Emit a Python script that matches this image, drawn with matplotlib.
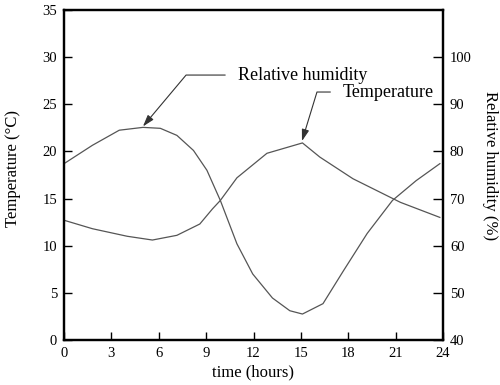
import numpy as np
import matplotlib
matplotlib.use("Agg")
import matplotlib.pyplot as plt

# values
hours_t = [0, 1.8, 4.0, 5.6, 7.15, 8.6, 9.4, 9.9, 10.95, 12.85, 15.1, 16.2, 18.3, 21.3, 23.8]
temperature = [12.7, 11.8, 11.0, 10.6, 11.1, 12.3, 13.9, 14.8, 17.2, 19.8, 20.9, 19.4, 17.1, 14.6, 13.0]

hours_rh = [0, 1.8, 3.5, 5.0, 6.1, 7.15, 8.2, 9.05, 9.9, 10.95, 11.95, 13.2, 14.3,
            15.1, 16.4, 17.7, 19.2, 20.8, 22.3, 23.8]
humidity = [77.4, 81.3, 84.5, 85.1, 84.9, 83.4, 80.2, 76.0, 69.6, 60.4, 54.0, 48.9, 46.2,
            45.5, 47.7, 54.7, 62.6, 69.6, 73.8, 77.4]

x_ticks = [0, 3, 6, 9, 12, 15, 18, 21, 24]
t_ticks = [0, 5, 10, 15, 20, 25, 30, 35]
rh_ticks = [40, 50, 60, 70, 80, 90, 100]

plt.rcParams['font.family'] = ['Liberation Serif', 'DejaVu Serif']
plt.rcParams['font.size'] = 11

fig = plt.figure(figsize=(5.0, 3.85), dpi=100)
ax = fig.add_axes([0.128, 0.117, 0.758, 0.857])
ax2 = ax.twinx()

line_col = '#555555'
ax.plot(hours_t, temperature, color=line_col, lw=0.9)
ax2.plot(hours_rh, humidity, color=line_col, lw=0.9)

ax.set_xlim(0, 24)
ax.set_ylim(0, 35)
ax2.set_ylim(40, 110)
ax.set_xticks(x_ticks)
ax.set_yticks(t_ticks)
ax2.set_yticks(rh_ticks)

ax.tick_params(direction='in', length=6, width=1, labelsize=10.5, pad=5)
ax2.tick_params(direction='in', length=7, width=1, labelsize=10.5, pad=5)
for a in (ax, ax2):
    for s in a.spines.values():
        s.set_linewidth(1.6)

ax.set_xlabel('time (hours)', fontsize=12)
ax.xaxis.set_label_coords(0.5, -0.073)
ax.set_ylabel('Temperature (°C)', fontsize=12)
ax.yaxis.set_label_coords(-0.113, 0.52)
ax2.set_ylabel('Relative humidity (%)', fontsize=12, rotation=270, va='center')
ax2.yaxis.set_label_coords(1.125, 0.53)

head = '-|>,head_length=0.7,head_width=0.22'
ax2.annotate('Relative humidity', xy=(5.0, 85.3), xytext=(11.0, 96.2),
             ha='left', va='center', fontsize=13,
             arrowprops=dict(arrowstyle=head, color='#333333', lw=0.8,
                             mutation_scale=10, shrinkA=7, shrinkB=0,
                             relpos=(0, 0.5),
                             connectionstyle='angle,angleA=0,angleB=50,rad=0'))
ax.annotate('Temperature', xy=(15.07, 21.1), xytext=(17.66, 26.3),
            ha='left', va='center', fontsize=13,
            arrowprops=dict(arrowstyle=head, color='#333333', lw=0.8,
                            mutation_scale=10, shrinkA=7, shrinkB=0,
                            relpos=(0, 0.5),
                            connectionstyle='angle,angleA=0,angleB=73,rad=0'))

fig.savefig('out.png', dpi=100)
